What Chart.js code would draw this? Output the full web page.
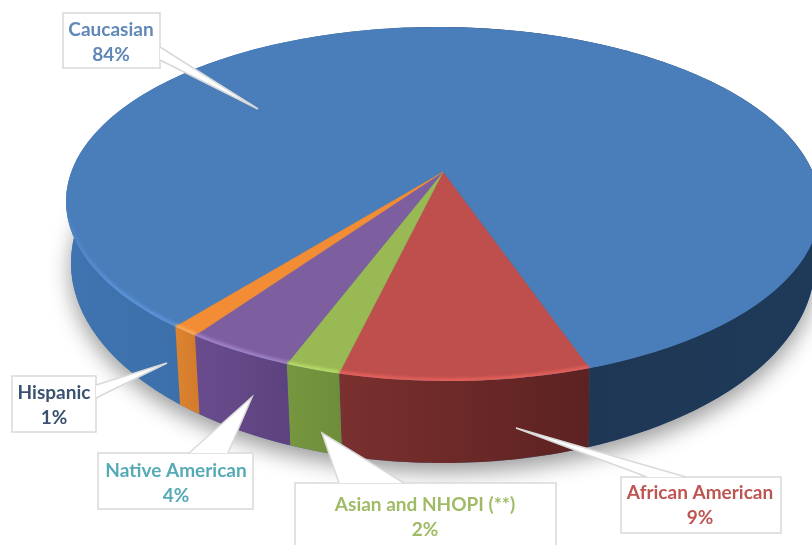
<!DOCTYPE html>
<html>
<head>
<meta charset="utf-8">
<script src="https://cdn.jsdelivr.net/npm/chart.js@4/dist/chart.umd.min.js"></script>
<style>
  html, body { margin: 0; padding: 0; background: #fff; }
  canvas { display: block; }
</style>
</head>
<body>
<canvas id="pie" width="812" height="545"></canvas>
<script>
const categories = ["Caucasian", "African American", "Asian and NHOPI (**)", "Native American", "Hispanic"]
const shares = [84, 9, 2, 4, 1]

const faceColors = ["#4a7ebb", "#be4f4c", "#98b954", "#7d5fa0", "#f38d35"]
const glowColors = ["#5a93d8", "#e2605a", "#b8d868", "#a080c6", "#f9a95c"]
const textColors = ["#5f88b8", "#bd5552", "#a0bb66", "#55abb5", "#3a5270"]

// wall shading, left to right across the slice
const wallColors = [
  ["#3f74b0", "#3a6ca6", "#1d3653", "#1f3a59"],
  ["#7a302e", "#5c2221"],
  ["#76973f", "#6f8e3c"],
  ["#6a4c8e", "#5c427e"],
  ["#dd8431", "#d47c2c"],
]

// the disc seen in perspective: rim of the top face, rim of the base, and the pie centre
const topRim = { x: 443, y: 204, rx: 377, ry: 177, tilt: 0.009 }
const baseRim = { x: 443, y: 263, rx: 372, ry: 200 }
const apex = { x: 443, y: 172 }
const viewRatio = 0.4617 // how flat the disc looks from the apex

// callouts are the label boxes with their pointer, one per category
const callouts = [
  { cx: 111, y: [30, 55], box: [63, 13, 97, 55], path: [[160, 47], [258, 109], [160, 60]] },
  { cx: 700, y: [493, 518], box: [621, 477, 160, 56], path: [[647, 477], [516, 428], [686, 477]] },
  { cx: 425, y: [505, 530], box: [295, 483, 261, 70], path: [[339, 483], [322, 433], [404, 483]] },
  { cx: 176, y: [471, 496], box: [98, 453, 155, 56], path: [[189, 453], [252, 397], [228, 453]] },
  { cx: 54, y: [393, 418], box: [12, 376, 84, 56], path: [[96, 385], [167, 363], [96, 398]] },
]

// angle of a rim point as seen from the pie centre
function seenAngle(angle) {
  return Math.atan2(viewRatio * Math.sin(angle), Math.cos(angle))
}

// where the ray from the apex meets the top rim, as a point on the unit circle of that ellipse
function rimUnit(angle) {
  const phi = seenAngle(angle)
  const cos = Math.cos(-topRim.tilt)
  const sin = Math.sin(-topRim.tilt)
  const dx = Math.cos(phi)
  const dy = Math.sin(phi)
  const ox = apex.x - topRim.x
  const oy = apex.y - topRim.y
  const px = (ox * cos - oy * sin) / topRim.rx
  const py = (ox * sin + oy * cos) / topRim.ry
  const qx = (dx * cos - dy * sin) / topRim.rx
  const qy = (dx * sin + dy * cos) / topRim.ry
  const a = qx * qx + qy * qy
  const b = 2 * (px * qx + py * qy)
  const c = px * px + py * py - 1
  const t = (-b + Math.sqrt(b * b - 4 * a * c)) / (2 * a)
  return { u: px + qx * t, v: py + qy * t }
}

function rimPoint(angle) {
  const { u, v } = rimUnit(angle)
  const cos = Math.cos(topRim.tilt)
  const sin = Math.sin(topRim.tilt)
  const ex = topRim.rx * u
  const ey = topRim.ry * v
  return { x: topRim.x + ex * cos - ey * sin, y: topRim.y + ex * sin + ey * cos }
}

function basePoint(angle) {
  const { u, v } = rimUnit(angle)
  return { x: baseRim.x + baseRim.rx * u, y: baseRim.y + baseRim.ry * v }
}

function sampleAngles(start, end) {
  const steps = Math.max(4, Math.ceil((end - start) * 60))
  const out = []
  for (let i = 0; i <= steps; i++) {
    out.push(start + ((end - start) * i) / steps)
  }
  return out
}

function tracePath(ctx, pts, joined) {
  pts.forEach((p, n) => (n || joined ? ctx.lineTo(p.x, p.y) : ctx.moveTo(p.x, p.y)))
}

function drawWall(ctx, arc, i) {
  const angles = sampleAngles(arc.startAngle, arc.endAngle)
  const top = angles.map(rimPoint)
  const base = angles.map(basePoint)
  const colors = wallColors[i]
  let x0 = Math.min(top[0].x, top[top.length - 1].x)
  let x1 = Math.max(top[0].x, top[top.length - 1].x)
  if (i === 0) {
    x0 = topRim.x - topRim.rx
    x1 = topRim.x + topRim.rx
  }
  const grad = ctx.createLinearGradient(x0, 0, x1, 0)
  if (colors.length === 4) {
    grad.addColorStop(0, colors[0])
    grad.addColorStop(0.3, colors[1])
    grad.addColorStop(0.6, colors[2])
    grad.addColorStop(1, colors[3])
  } else {
    grad.addColorStop(0, colors[0])
    grad.addColorStop(1, colors[1])
  }
  ctx.fillStyle = grad
  ctx.beginPath()
  tracePath(ctx, top)
  tracePath(ctx, base.reverse(), true)
  ctx.closePath()
  ctx.fill()
}

function drawFace(ctx, arc, scale) {
  const start = arc.startAngle
  const end = arc.endAngle
  const seenStart = seenAngle(start)
  let seenEnd = seenAngle(end)
  while (seenEnd <= seenStart) seenEnd += Math.PI * 2
  arc.startAngle = seenStart
  arc.endAngle = seenEnd
  ctx.save()
  ctx.translate(apex.x, apex.y)
  ctx.scale(scale, scale)
  ctx.translate(-arc.x, -arc.y)
  arc.draw(ctx)
  ctx.restore()
  arc.startAngle = start
  arc.endAngle = end
}

function clipTopRim(ctx) {
  ctx.beginPath()
  ctx.ellipse(topRim.x, topRim.y, topRim.rx, topRim.ry, topRim.tilt, 0, Math.PI * 2)
  ctx.clip()
}

// light bevel along the front of the rim
function drawGlow(ctx, arc, i) {
  const tau = Math.PI * 2
  const a = ((arc.startAngle % tau) + tau) % tau
  const b = Math.min(a + arc.endAngle - arc.startAngle, Math.PI)
  if (b <= a) return
  const pts = sampleAngles(a, b).map(rimPoint)
  ctx.save()
  clipTopRim(ctx)
  ctx.filter = "blur(1.5px)"
  if (i === 0) {
    const fade = ctx.createLinearGradient(0, 205, 0, 290)
    fade.addColorStop(0, "rgba(90,147,216,0)")
    fade.addColorStop(1, glowColors[0])
    ctx.strokeStyle = fade
  } else {
    ctx.strokeStyle = glowColors[i]
  }
  ctx.lineWidth = 6
  ctx.beginPath()
  tracePath(ctx, pts)
  ctx.stroke()
  ctx.restore()
}

function drawCallout(ctx, i) {
  const c = callouts[i]
  const [x, y, w, h] = c.box
  const tip = c.path.map((p) => ({ x: p[0], y: p[1] }))
  ctx.save()
  ctx.fillStyle = "#ffffff"
  ctx.strokeStyle = "#d9d9d9"
  ctx.lineWidth = 1.5
  ctx.beginPath()
  ctx.rect(x, y, w, h)
  ctx.fill()
  ctx.stroke()
  ctx.beginPath()
  tracePath(ctx, tip)
  ctx.closePath()
  ctx.fill()
  ctx.beginPath()
  tracePath(ctx, tip)
  ctx.stroke()
  ctx.fillStyle = textColors[i]
  ctx.font = "bold 19px Lato, 'Open Sans', sans-serif"
  ctx.textAlign = "center"
  ctx.textBaseline = "middle"
  ctx.fillText(categories[i], c.cx, c.y[0])
  ctx.fillText(shares[i] + "%", c.cx, c.y[1])
  ctx.restore()
}

const pie3d = {
  id: "pie3d",
  beforeDatasetsDraw(chart) {
    const ctx = chart.ctx
    const arcs = chart.getDatasetMeta(0).data

    // soft shadow under the base
    ctx.save()
    ctx.shadowColor = "rgba(0,0,0,0.4)"
    ctx.shadowBlur = 22
    ctx.shadowOffsetY = 9
    ctx.fillStyle = "#3a6ca6"
    ctx.beginPath()
    ctx.ellipse(baseRim.x, baseRim.y, baseRim.rx, baseRim.ry, 0, 0, Math.PI * 2)
    ctx.fill()
    ctx.restore()

    arcs.forEach((arc, i) => drawWall(ctx, arc, i))

    // top face: arcs centred on the apex, cut to the rim ellipse
    ctx.save()
    clipTopRim(ctx)
    const scale = 440 / arcs[0].outerRadius
    arcs.forEach((arc) => drawFace(ctx, arc, scale))
    ctx.restore()

    arcs.forEach((arc, i) => drawGlow(ctx, arc, i))
    arcs.forEach((arc, i) => drawCallout(ctx, i))
    return false
  },
}

new Chart(document.getElementById("pie"), {
  type: "pie",
  data: {
    labels: categories,
    datasets: [
      {
        data: shares,
        backgroundColor: faceColors,
        borderColor: faceColors,
        borderWidth: 0.3,
      },
    ],
  },
  options: {
    responsive: false,
    animation: false,
    rotation: 218.6,
    plugins: {
      legend: { display: false },
      tooltip: { enabled: false },
    },
  },
  plugins: [pie3d],
})
</script>
</body>
</html>
